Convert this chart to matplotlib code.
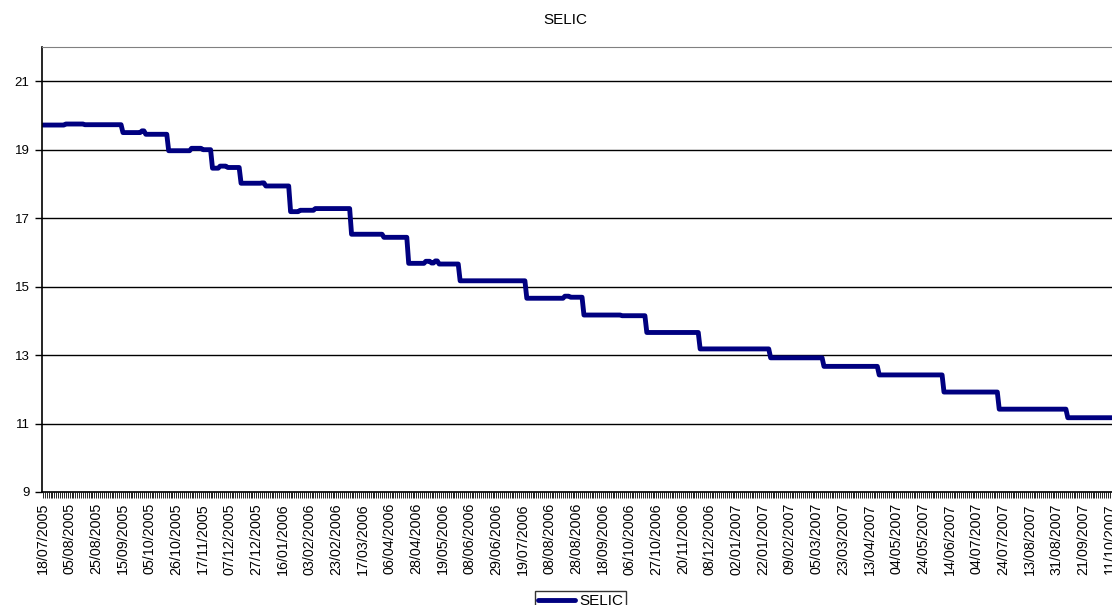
import numpy as np
import matplotlib
matplotlib.use("Agg")
import matplotlib.pyplot as plt

plt.rcParams['font.family'] = ['Liberation Sans', 'DejaVu Sans']

# SELIC daily rate, stored as runs of (level, number of business days)
levels = [19.72, 19.75, 19.73, 19.50, 19.55, 19.45,
          18.97, 19.04, 19.00, 18.46, 18.52, 18.48,
          18.02, 18.03, 17.94, 17.19, 17.23, 17.28,
          16.53, 16.44, 15.68, 15.74, 15.69, 15.75, 15.66,
          15.17, 14.66, 14.72, 14.69, 14.17, 14.15,
          13.66, 13.18, 12.92, 12.67, 12.42, 11.92, 11.42, 11.17]
days = [12, 10, 20, 10, 2, 12,
        12, 6, 5, 4, 4, 7,
        11, 2, 13, 5, 8, 19,
        17, 13, 9, 3, 2, 2, 11,
        35, 20, 3, 7, 20, 13,
        28, 37, 28, 29, 34, 29, 36, 24]

date_labels = ["18/07/2005", "05/08/2005", "25/08/2005", "15/09/2005", "05/10/2005",
               "26/10/2005", "17/11/2005", "07/12/2005", "27/12/2005", "16/01/2006",
               "03/02/2006", "23/02/2006", "17/03/2006", "06/04/2006", "28/04/2006",
               "19/05/2006", "08/06/2006", "29/06/2006", "19/07/2006", "08/08/2006",
               "28/08/2006", "18/09/2006", "06/10/2006", "27/10/2006", "20/11/2006",
               "08/12/2006", "02/01/2007", "22/01/2007", "09/02/2007", "05/03/2007",
               "23/03/2007", "13/04/2007", "04/05/2007", "24/05/2007", "14/06/2007",
               "04/07/2007", "24/07/2007", "13/08/2007", "31/08/2007", "21/09/2007",
               "11/10/2007"]
label_step = 14

selic = np.repeat(levels, days)
n = len(selic)
x = np.arange(n)

fig = plt.figure(figsize=(11.12, 6.05), dpi=100)
ax = fig.add_axes([42/1112, 113/605, 1 - 42/1112, 445/605])

ax.plot(x, selic, color='#000080', lw=3.5, label='SELIC',
        solid_joinstyle='round', solid_capstyle='round')

ax.set_ylim(9, 22)
ax.set_yticks(np.arange(9, 22, 2))
ax.set_xlim(-0.5, n - 0.8)
ax.set_xticks(np.arange(0, len(date_labels) * label_step, label_step))
ax.set_xticklabels(date_labels, rotation=90, fontsize=10.3)
ax.set_xticks(x, minor=True)
ax.tick_params(axis='x', which='both', direction='out', length=4, width=0.6, pad=4)
ax.tick_params(axis='y', direction='out', length=5, width=1, labelsize=9.5, pad=4)

for v in range(11, 22, 2):
    ax.axhline(v, color='black', lw=1, zorder=0)
ax.spines['right'].set_visible(False)
ax.spines['top'].set_color('#808080')
ax.spines['left'].set_linewidth(1.2)
ax.spines['bottom'].set_linewidth(1.2)

fig.text(565/1112, 1 - 20/605, 'SELIC', ha='center', va='center', fontsize=11)

leg = fig.legend(loc='upper left', bbox_to_anchor=(535/1112, 1 - 591/605),
                 fontsize=11, frameon=True, fancybox=False, edgecolor='black',
                 handlelength=2.4, handletextpad=0.3, borderpad=0.2, borderaxespad=0)
leg.get_frame().set_linewidth(1)

fig.savefig('out.png', dpi=100)
